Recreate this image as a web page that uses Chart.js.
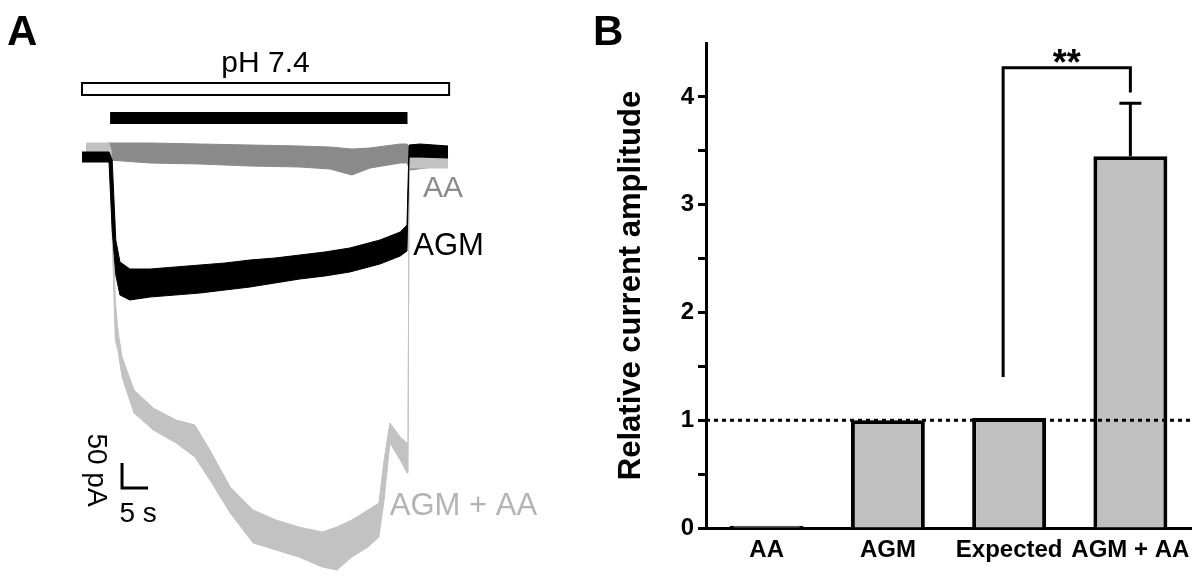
<!DOCTYPE html>
<html><head><meta charset="utf-8">
<script src="https://cdn.jsdelivr.net/npm/chart.js@4.4.1/dist/chart.umd.min.js"></script>
<style>
html,body{margin:0;padding:0;background:#fff;width:1200px;height:579px;overflow:hidden}
#a{position:absolute;left:0;top:0}
#b{position:absolute;left:580px;top:0}
</style></head><body>
<canvas id="a" width="600" height="579"></canvas>
<canvas id="b" width="620" height="579"></canvas>
<script>
const FONT = "'Liberation Sans', Arial, Helvetica, sans-serif";

// ---------- Panel A: whole-cell current traces (time in s, current in pA), noise envelope ----------
const agmTime  = [0,5.2,5.8,6.5,7.3,9.2,13.1,17.9,22.7,27.5,32.3,37.1,41.9,46.7,51.5,57.3,61.2,62.5,62.9,65.0,70.4];
const agmUpper = [6,6,-10,-170,-214,-228,-228,-224,-220,-216,-210,-206,-200,-194,-186,-170,-154,-140,20,22,18];
const agmLower = [-14,-14,-150,-240,-280,-290,-284,-280,-276,-270,-264,-256,-248,-242,-234,-218,-202,-192,-4,-4,-6];

const aaTime  = [0.8,5.2,13.1,22.7,32.3,41.9,47.7,51.9,55.4,61.2,62.5,63.1,70.4];
const aaUpper = [18,24,24,22,20,18,16,12,14,22,22,10,6];
const aaLower = [-6,-10,-16,-18,-22,-24,-28,-40,-26,-16,-16,-30,-20];

const mixTime  = [0.8,5.2,5.6,6.4,6.9,7.7,10.0,13.7,18.1,21.7,24.6,28.5,32.9,37.3,41.7,46.2,49.0,51.9,55.0,57.1,58.1,59.2,61.2,62.5,62.7,62.9,70.4];
const mixUpper = [24,24,10,-290,-350,-404,-470,-506,-530,-540,-590,-664,-710,-730,-744,-754,-744,-730,-710,-696,-610,-536,-564,-576,-576,-6,-6];
const mixLower = [-4,-4,-90,-370,-390,-444,-516,-550,-576,-604,-650,-716,-776,-790,-804,-824,-830,-804,-784,-764,-690,-576,-610,-636,-636,-26,-26];

const phBarTime   = [0, 70.6];   // pH 7.4 application (s)
const drugBarTime = [5.4, 62.6]; // drug application (s)
const scaleBarTime = 5;          // s
const scaleBarCurrent = 50;      // pA
const traceLabels = ['AA', 'AGM', 'AGM + AA'];

// ---------- Panel B: relative current amplitude ----------
const categories   = ['AA', 'AGM', 'Expected', 'AGM + AA'];
const relAmplitude = [0.02, 1.00, 1.02, 3.45];
const relError     = [0, 0, 0, 0.49];
const yTickLabels  = [0, 1, 2, 3, 4];
const sigPair      = [2, 3];
const sigFeet      = [1.4, 4.04];
const sigTop       = 4.27;
const sigText      = '**';
const refLevel     = 1;

const pts = (t, v) => t.map((x, i) => ({x, y: v[i]}));
const band = (t, hi, lo, col) => [
  {data: pts(t, hi), borderColor: col, backgroundColor: col, borderWidth: 1, pointRadius: 0, fill: '+1', tension: 0},
  {data: pts(t, lo), borderColor: col, backgroundColor: col, borderWidth: 1, pointRadius: 0, fill: false, tension: 0}
];

const BLACK = '#000', MID = '#8a8a8a', LIGHT = '#c2c2c2';

const panelA = {
  id: 'panelA',
  afterDraw(chart) {
    const ctx = chart.ctx, X = v => chart.scales.x.getPixelForValue(v), Y = v => chart.scales.y.getPixelForValue(v);
    ctx.save();
    ctx.fillStyle = '#000';
    ctx.font = 'bold 42px ' + FONT;
    ctx.textAlign = 'left'; ctx.textBaseline = 'alphabetic';
    ctx.fillText('A', 7, 45);
    // pH bar
    ctx.font = '30px ' + FONT; ctx.textAlign = 'center';
    ctx.fillText('pH 7.4', X((phBarTime[0] + phBarTime[1]) / 2), Y(166));
    ctx.lineWidth = 2; ctx.strokeStyle = '#000'; ctx.fillStyle = '#fff';
    const y0 = Y(144), y1 = Y(120);
    ctx.fillRect(X(phBarTime[0]), y0, X(phBarTime[1]) - X(phBarTime[0]), y1 - y0);
    ctx.strokeRect(X(phBarTime[0]), y0, X(phBarTime[1]) - X(phBarTime[0]), y1 - y0);
    ctx.fillStyle = '#000';
    const d0 = Y(86), d1 = Y(62);
    ctx.fillRect(X(drugBarTime[0]), d0, X(drugBarTime[1]) - X(drugBarTime[0]), d1 - d0);
    // trace labels
    ctx.textAlign = 'left';
    ctx.font = '30px ' + FONT; ctx.fillStyle = MID;
    ctx.fillText(traceLabels[0], X(65.6), Y(-84));
    ctx.font = '31px ' + FONT; ctx.fillStyle = '#000';
    ctx.fillText(traceLabels[1], X(63.7), Y(-200));
    ctx.fillStyle = '#b4b4b4';
    ctx.fillText(traceLabels[2], X(59.2), Y(-720));
    // scale bar
    const ct = 7.7, cI = -666;
    ctx.strokeStyle = '#000'; ctx.lineWidth = 3; ctx.lineCap = 'butt';
    ctx.beginPath();
    ctx.moveTo(X(ct), Y(cI + scaleBarCurrent));
    ctx.lineTo(X(ct), Y(cI));
    ctx.lineTo(X(ct + scaleBarTime), Y(cI));
    ctx.stroke();
    ctx.fillStyle = '#000'; ctx.font = '28px ' + FONT; ctx.textAlign = 'center';
    ctx.fillText(scaleBarTime + ' s', X(10.8), Y(-734));
    ctx.save();
    ctx.translate(X(1.15), Y(-630));
    ctx.rotate(Math.PI / 2);
    ctx.fillText(scaleBarCurrent + ' pA', 0, 0);
    ctx.restore();
    ctx.restore();
  }
};

new Chart(document.getElementById('a'), {
  type: 'line',
  data: {datasets: [
    ...band(agmTime, agmUpper, agmLower, BLACK),
    ...band(mixTime, mixUpper, mixLower, LIGHT),
    ...band(aaTime, aaUpper, aaLower, MID)
  ]},
  options: {
    responsive: false, animation: false, devicePixelRatio: 1,
    layout: {padding: 0},
    plugins: {legend: {display: false}, tooltip: {enabled: false}},
    scales: {
      x: {type: 'linear', display: false, min: -15.77, max: 99.62},
      y: {type: 'linear', display: false, min: -848, max: 310}
    }
  },
  plugins: [panelA]
});

const panelB = {
  id: 'panelB',
  afterDatasetsDraw(chart) {
    const ctx = chart.ctx, ys = chart.scales.y, area = chart.chartArea;
    const meta = chart.getDatasetMeta(0);
    ctx.save();
    // reference dotted line
    ctx.strokeStyle = '#000'; ctx.lineWidth = 3; ctx.setLineDash([4, 4]);
    ctx.beginPath(); ctx.moveTo(area.left, ys.getPixelForValue(refLevel)); ctx.lineTo(area.right, ys.getPixelForValue(refLevel)); ctx.stroke();
    ctx.setLineDash([]);
    // error bars
    relError.forEach((e, i) => {
      if (!e) return;
      const x = meta.data[i].x, yT = ys.getPixelForValue(relAmplitude[i] + e), yB = ys.getPixelForValue(relAmplitude[i]);
      ctx.beginPath(); ctx.moveTo(x, yB); ctx.lineTo(x, yT); ctx.moveTo(x - 11, yT); ctx.lineTo(x + 11, yT); ctx.stroke();
    });
    // significance bracket
    const xa = meta.data[sigPair[0]].x - 6, xb = meta.data[sigPair[1]].x, yt = ys.getPixelForValue(sigTop);
    ctx.beginPath();
    ctx.moveTo(xa, ys.getPixelForValue(sigFeet[0])); ctx.lineTo(xa, yt); ctx.lineTo(xb, yt); ctx.lineTo(xb, ys.getPixelForValue(sigFeet[1]));
    ctx.stroke();
    ctx.fillStyle = '#000'; ctx.font = 'bold 36px ' + FONT; ctx.textAlign = 'center'; ctx.textBaseline = 'alphabetic';
    ctx.fillText(sigText, (xa + xb) / 2, yt + 7);
    ctx.restore();
  },
  afterDraw(chart) {
    const ctx = chart.ctx;
    ctx.save();
    ctx.fillStyle = '#000'; ctx.font = 'bold 42px ' + FONT; ctx.textAlign = 'left'; ctx.textBaseline = 'alphabetic';
    ctx.fillText('B', 13, 45);
    ctx.restore();
  }
};

new Chart(document.getElementById('b'), {
  type: 'bar',
  data: {labels: categories, datasets: [{
    data: relAmplitude, backgroundColor: '#c0c0c0', borderColor: '#000', borderWidth: 4,
    barPercentage: 0.61, categoryPercentage: 1
  }]},
  options: {
    responsive: false, animation: false, devicePixelRatio: 1,
    layout: {padding: {top: 43, right: 9, left: 0, bottom: 0}},
    plugins: {legend: {display: false}, tooltip: {enabled: false}},
    scales: {
      x: {
        grid: {display: false, drawTicks: false},
        border: {display: true, color: '#000', width: 3},
        ticks: {color: '#000', font: {family: FONT, size: 24, weight: 'bold'}, padding: 8, autoSkip: false, maxRotation: 0, minRotation: 0},
        afterFit(s) { s.height = 51; }
      },
      y: {
        min: 0, max: 4.5,
        ticks: {stepSize: 0.5, color: '#000', padding: 4, font: {family: FONT, size: 24, weight: 'bold'},
          callback: v => yTickLabels.includes(v) ? String(v) : ''},
        grid: {drawOnChartArea: false, drawTicks: true, tickLength: 8, tickWidth: 3,
          tickColor: c => (c.tick && c.tick.value > 4.25) ? 'rgba(0,0,0,0)' : '#000'},
        border: {display: true, color: '#000', width: 3},
        title: {display: true, text: 'Relative current amplitude', color: '#000',
          font: {family: FONT, size: 31, weight: 'bold'}, padding: {top: 33, bottom: 0}},
        afterFit(s) { s.width = 126; }
      }
    }
  },
  plugins: [panelB]
});
</script>
</body></html>
